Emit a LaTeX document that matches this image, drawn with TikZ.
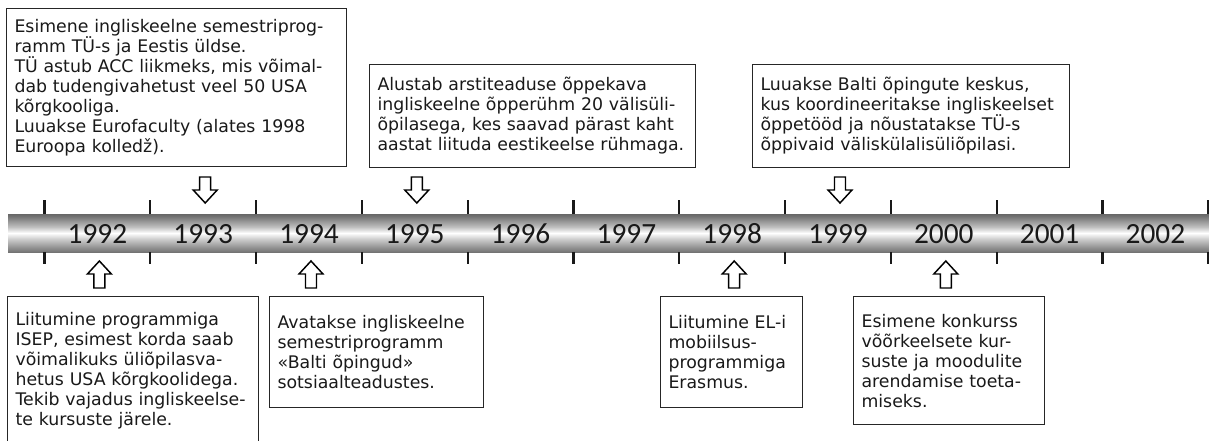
\documentclass[tikz,border=0pt]{standalone}
\usepackage{fontspec}
\setmainfont{DejaVu Sans}
\newfontfamily\yearfont{Carlito}
\usetikzlibrary{calc}

% metallic look of the time bar (bottom to top)
\pgfdeclareverticalshading{metalbar}{100bp}{color(0bp)=(black!95); color(8bp)=(black!80);
  color(25bp)=(black!55); color(42bp)=(black!20); color(50bp)=(white); color(58bp)=(black!25);
  color(72bp)=(black!55); color(88bp)=(black!80); color(100bp)=(black!95)}

\begin{document}
\begin{tikzpicture}[x=0.75pt,y=-0.75pt,
    eventbox/.style={draw=black!85, line width=0.8pt, anchor=north west, align=left,
      inner xsep=6pt, inner ysep=0pt, font=\fontsize{13}{15}\selectfont, text=black!90},
    yearlabel/.style={font=\yearfont\fontsize{22}{22}\selectfont, text=black!90},
    tickline/.style={line width=1.6pt, black!90},
    blockarrow/.style={draw=black, line width=1.1pt, fill=white, line join=miter}]
  \useasboundingbox (0,0) rectangle (1209,440);
  \clip (0,0) rectangle (1209,440);

  % time bar
  \shade[shading=metalbar] (8,214) rectangle (1216,252);
  \foreach \k in {0,...,11} {
    \draw[tickline] ({44.5+105.8*\k},200) -- ++(0,14);
    \draw[tickline] ({44.5+105.8*\k},252) -- ++(0,12);
  }
  \foreach \yr [count=\k from 0] in {1992,...,2002} {
    \node[yearlabel] (y\yr) at ({44.5+105.8*(\k+0.5)},234) {\yr};
  }

  % events above the bar
  \foreach \nm/\xa/\ya/\w/\h/\txt in {
    b1993/6/8/340/158/{Esimene ingliskeelne semestriprog-\\ramm TÜ-s ja Eestis üldse.\\TÜ astub ACC liikmeks, mis võimal-\\dab tudengivahetust veel 50 USA\\kõrgkooliga.\\Luuakse Eurofaculty (alates 1998\\Euroopa kolledž).},
    b1995/369/64/326/103/{Alustab arstiteaduse õppekava\\ingliskeelne õpperühm 20 välisüli-\\õpilasega, kes saavad pärast kaht\\aastat liituda eestikeelse rühmaga.},
    b1999/752/64/317/103/{Luuakse Balti õpingute keskus,\\kus koordineeritakse ingliskeelset\\õppetööd ja nõustatakse TÜ-s\\õppivaid väliskülalisüliõpilasi.},
    b1992/7/296/251/148/{Liitumine programmiga\\ISEP, esimest korda saab\\võimalikuks üliõpilasva-\\hetus USA kõrgkoolidega.\\Tekib vajadus ingliskeelse-\\te kursuste järele.},
    b1994/269/296/214/111/{Avatakse ingliskeelne\\semestriprogramm\\«Balti õpingud»\\sotsiaalteadustes.},
    b1998/660/296/142/111/{Liitumine EL-i\\mobiilsus-\\programmiga\\Erasmus.},
    b2000/853/296/191/128/{Esimene konkurss\\võõrkeelsete kur-\\suste ja moodulite\\arendamise toeta-\\miseks.}
  } {
    \pgfmathsetmacro\bw{\w*0.75}
    \pgfmathsetmacro\bh{\h*0.75}
    \pgfmathsetmacro\tw{(\w-16)*0.75}
    \node[eventbox, minimum width=\bw pt, minimum height=\bh pt, text width=\tw pt]
      (\nm) at (\xa,\ya) {\txt};
  }

  % arrows down to the bar
  \foreach \yr in {1993,1995,1999} {
    \draw[blockarrow] ($(y\yr)+(-3.5,-57)$) -- ++(11,0) -- ++(0,13) -- ++(6.5,0)
      -- ++(-12,13) -- ++(-12,-13) -- ++(6.5,0) -- cycle;
  }
  % arrows up to the bar
  \foreach \yr in {1992,1994,1998,2000} {
    \draw[blockarrow] ($(y\yr)+(-3.5,54)$) -- ++(11,0) -- ++(0,-14) -- ++(6.5,0)
      -- ++(-12,-13) -- ++(-12,13) -- ++(6.5,0) -- cycle;
  }
\end{tikzpicture}
\end{document}
